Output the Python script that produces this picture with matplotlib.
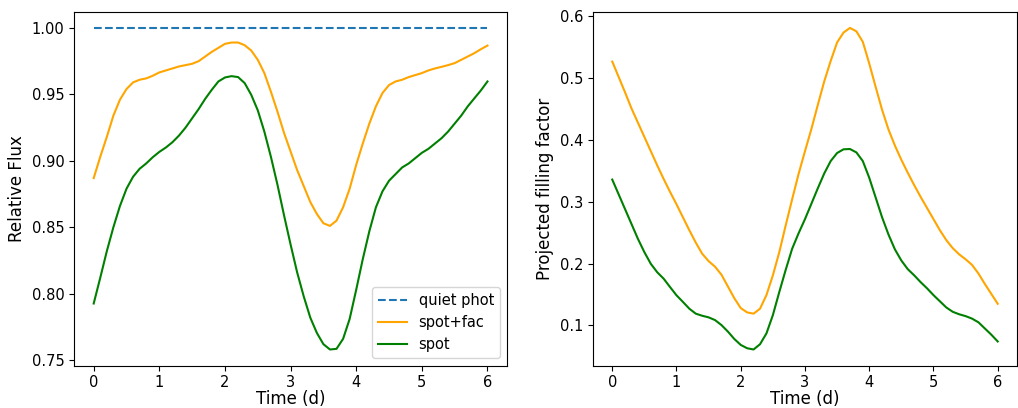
import numpy as np
import matplotlib
matplotlib.use('Agg')
import matplotlib.pyplot as plt

# time grid (days), 0.1 d steps
time = [round(0.1 * i, 1) for i in range(61)]

# relative flux
quiet_phot = [1.0] * len(time)
flux_spotfac = [0.887, 0.903, 0.918, 0.934, 0.946, 0.954, 0.959, 0.961, 0.962, 0.964,
                0.9665, 0.968, 0.9695, 0.971, 0.972, 0.973, 0.975, 0.9785, 0.982, 0.985,
                0.988, 0.989, 0.989, 0.987, 0.983, 0.976, 0.966, 0.952, 0.937, 0.921,
                0.907, 0.893, 0.881, 0.869, 0.860, 0.853, 0.851, 0.855, 0.865, 0.879,
                0.897, 0.913, 0.928, 0.941, 0.951, 0.957, 0.9597, 0.961, 0.963, 0.9645,
                0.966, 0.968, 0.9695, 0.9707, 0.972, 0.9735, 0.976, 0.9785, 0.981, 0.984,
                0.9867]
flux_spot = [0.7926, 0.812, 0.832, 0.850, 0.866, 0.879, 0.888, 0.894, 0.898, 0.9027,
             0.9067, 0.910, 0.914, 0.919, 0.925, 0.932, 0.939, 0.9467, 0.9535, 0.9597,
             0.9627, 0.9637, 0.963, 0.9585, 0.9497, 0.938, 0.922, 0.903, 0.882, 0.859,
             0.837, 0.816, 0.798, 0.782, 0.7705, 0.762, 0.758, 0.7585, 0.766, 0.781,
             0.803, 0.826, 0.847, 0.865, 0.877, 0.885, 0.890, 0.895, 0.898, 0.902,
             0.906, 0.909, 0.913, 0.917, 0.922, 0.928, 0.934, 0.941, 0.947, 0.953,
             0.9597]

# projected filling factor
ff_spotfac = [0.527, 0.502, 0.477, 0.451, 0.428, 0.405, 0.382, 0.359, 0.337, 0.316,
              0.296, 0.275, 0.254, 0.234, 0.216, 0.204, 0.195, 0.182, 0.163, 0.144,
              0.128, 0.121, 0.119, 0.127, 0.149, 0.181, 0.2185, 0.262, 0.304, 0.345,
              0.382, 0.418, 0.457, 0.495, 0.528, 0.558, 0.574, 0.5815, 0.576, 0.559,
              0.524, 0.486, 0.449, 0.417, 0.391, 0.368, 0.347, 0.327, 0.308, 0.290,
              0.272, 0.254, 0.238, 0.225, 0.215, 0.207, 0.198, 0.184, 0.167, 0.151,
              0.135]
ff_spot = [0.336, 0.312, 0.288, 0.264, 0.240, 0.2185, 0.1997, 0.186, 0.1756, 0.162,
           0.1487, 0.138, 0.127, 0.119, 0.1156, 0.113, 0.1086, 0.1005, 0.090, 0.078,
           0.0684, 0.063, 0.061, 0.0695, 0.087, 0.1166, 0.154, 0.190, 0.224, 0.249,
           0.272, 0.297, 0.322, 0.346, 0.366, 0.379, 0.385, 0.3855, 0.380, 0.366,
           0.339, 0.307, 0.275, 0.247, 0.223, 0.205, 0.191, 0.181, 0.170, 0.160,
           0.149, 0.139, 0.129, 0.122, 0.118, 0.115, 0.111, 0.105, 0.095, 0.085,
           0.074]

plt.rcParams['font.size'] = 10.5

fig = plt.figure(figsize=(10.18, 4.08), dpi=100)
ax1 = fig.add_axes([0.0727, 0.104, 0.4255, 0.867])
ax2 = fig.add_axes([0.5825, 0.104, 0.4165, 0.867])

ax1.plot(time, quiet_phot, '--', color='tab:blue', label='quiet phot')
ax1.plot(time, flux_spotfac, color='orange', label='spot+fac')
ax1.plot(time, flux_spot, color='green', label='spot')
ax1.set_xlabel('Time (d)', fontsize=12, labelpad=0)
ax1.set_ylabel('Relative Flux', fontsize=12)
ax1.legend(loc='lower right', fontsize=10.5)

ax2.plot(time, ff_spotfac, color='orange')
ax2.plot(time, ff_spot, color='green')
ax2.set_xlabel('Time (d)', fontsize=12, labelpad=0)
ax2.set_ylabel('Projected filling factor', fontsize=12)

fig.savefig('out.png', dpi=100)
